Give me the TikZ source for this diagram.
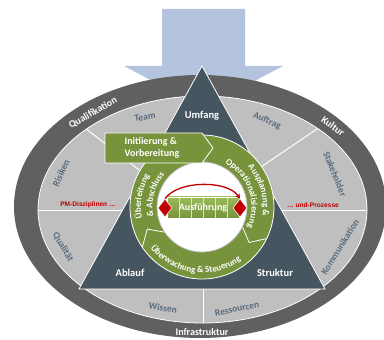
\documentclass[tikz,border=0pt]{standalone}
\usepackage{fontspec}
\setmainfont{Carlito}
\newfontfamily\arialfont{Liberation Sans}
\usetikzlibrary{decorations.text,arrows.meta,shapes.geometric}
\definecolor{arrowblue}{HTML}{B4C4DE}
\definecolor{ringgray}{HTML}{606060}
\definecolor{segGray}{HTML}{BFBFBF}
\definecolor{triSlate}{HTML}{455661}
\definecolor{pmGreen}{HTML}{77933C}
\definecolor{lightGreen}{HTML}{9BBB59}
\definecolor{labelSlate}{HTML}{596A7E}
\definecolor{pmRed}{HTML}{C00000}
\newcommand\ringfont{\fontsize{9}{9}\selectfont\bfseries}
\begin{document}
\begin{tikzpicture}[x=1pt,y=1pt,
  seglabel/.style={text=labelSlate, font=\fontsize{9.5}{9.5}\selectfont\bfseries, inner sep=0pt},
  ringlabel/.style={text=white, font=\fontsize{10}{10}\selectfont\bfseries, inner sep=0pt},
  trilabel/.style={text=white, font=\fontsize{10.5}{10.5}\selectfont\bfseries, inner sep=0pt},
  redlabel/.style={text=pmRed, font=\arialfont\fontsize{6.6}{6.6}\selectfont\bfseries, inner sep=0pt},
  boxtext/.style={text=white, font=\fontsize{10}{12}\selectfont\bfseries, align=left, inner sep=0pt},
  divider/.style={white, line width=1pt},
  whiteedge/.style={white, line width=0.8pt},
  ringtext/.style={decorate, decoration={text along path, text align=center, text color=white}},
  redmark/.style={diamond, fill=pmRed, draw=white, line width=0.5pt, minimum width=14pt, minimum height=18pt, inner sep=0pt},
]
\useasboundingbox (0,0) rectangle (384,340);

% incoming arrow
\fill[arrowblue] (162,331) -- (245,331) -- (245,274) -- (283,274) -- (203.5,232) -- (124,274) -- (162,274) -- cycle;

% ellipses
\fill[ringgray] (200,133.5) ellipse[x radius=186, y radius=131.5];
\fill[segGray] (202.5,130.5) ellipse[x radius=164.5, y radius=113.5];
\begin{scope}
  \clip (202.5,130.5) ellipse[x radius=164.5, y radius=113.5];
  \draw[divider] (0,129) -- (384,129);
  \draw[divider] (60,231.4) -- (143,167);
  \draw[divider] (340,226.6) -- (258,171);
  \draw[divider] (203,51) -- (203,0);
\end{scope}
\draw[whiteedge] (202.5,130.5) ellipse[x radius=164.5, y radius=113.5];

% labels in the grey segments
\node[seglabel, rotate=10] (team) at (145,223) {Team};
\node[seglabel, rotate=-23] (auftrag) at (267,219) {Auftrag};
\node[seglabel, rotate=65] (risiken) at (61,167) {Risiken};
\node[seglabel, rotate=-68] (stake) at (335,166) {Stakeholder};
\node[seglabel, rotate=-60] (qual) at (63,93) {Qualität};
\node[seglabel, rotate=58] (komm) at (340,93) {Kommunikation};
\node[seglabel, rotate=-10] (wissen) at (163,32) {Wissen};
\node[seglabel, rotate=12] (ress) at (237,31) {Ressourcen};

% labels in the outer ring
\node[ringlabel, rotate=30] (qualif) at (93,227) {Qualifikation};
\node[ringlabel, rotate=-35] (kultur) at (333,214) {Kultur};
\node[ringlabel] (infra) at (202,8) {Infrastruktur};

% red labels
\node[redlabel] (pmd) at (88,135) {PM-Disziplinen \ldots};
\node[redlabel] (proz) at (313,135) {\ldots{} und-Prozesse};

% triangle
\draw[whiteedge, fill=triSlate] (202,274) -- (325,51) -- (79,51) -- cycle;
\node[trilabel] (umfang) at (202,224) {Umfang};
\node[trilabel] (ablauf) at (130,67) {Ablauf};
\node[trilabel] (struktur) at (275,67) {Struktur};

% green cycle
\begin{scope}[shift={(202,133)}]
  \fill[pmGreen, even odd rule] (0,0) circle[radius=72] (0,0) circle[radius=45];
  \draw[whiteedge] (0,0) circle[radius=72];
  \draw[whiteedge] (-26:72) -- (-37:59) -- (-26:45);
  \draw[whiteedge] (214:72) -- (202:59) -- (214:45);
  \path[ringtext, decoration={text={|\ringfont|Ausplanung {\&}}}] (55:61) arc[start angle=55, end angle=-22, radius=61];
  \path[ringtext, decoration={text={|\ringfont|Operationalisierung}}] (75:49.5) arc[start angle=75, end angle=-37, radius=49.5];
  \path[ringtext, decoration={text={|\ringfont|Überwachung {\&} Steuerung}}] (190:66) arc[start angle=190, end angle=335, radius=66];
  \path[ringtext, decoration={text={|\ringfont|Überleitung}}] (205:61) arc[start angle=205, end angle=135, radius=61];
  \path[ringtext, decoration={text={|\ringfont|{\&} Abschluss}}] (200:49.5) arc[start angle=200, end angle=130, radius=49.5];
  \draw[fill=white, draw=black!25, line width=0.8pt] (0,0) circle[radius=45];
\end{scope}

% start box
\draw[whiteedge, fill=pmGreen] (105,207) -- (202,207) -- (213,192) -- (202,177) -- (105,177) -- cycle;
\node[boxtext] (init) at (152,192) {Initiierung \&\\Vorbereitung};

% execution block
\shade[top color=lightGreen, bottom color=pmGreen] (167,122) rectangle (239,143);
\foreach \xx in {179,191,203,215,227} \draw[white!60!lightGreen, line width=0.5pt] (\xx,122) -- (\xx,143);
\draw[white, line width=0.5pt] (167,122) rectangle (239,143);
\node[trilabel, font=\fontsize{10}{10}\selectfont\bfseries] (ausf) at (203,132) {Ausführung};
\node[redmark] (dl) at (165,132) {};
\node[redmark] (dr) at (240,132) {};
\draw[pmRed, line width=1.3pt, -{Stealth[length=5pt,width=5pt]}] (dl.north) .. controls (178,160) and (228,160) .. (dr.north);
\end{tikzpicture}
\end{document}
